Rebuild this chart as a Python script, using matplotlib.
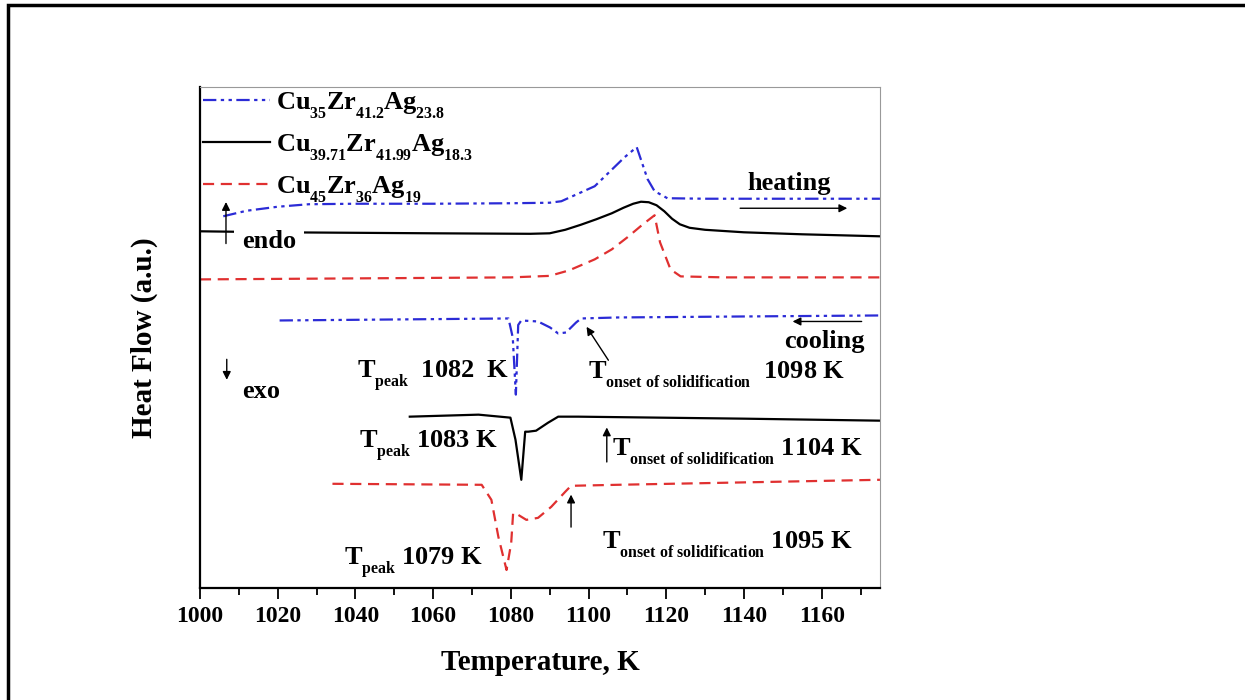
import matplotlib
matplotlib.use("Agg")
import matplotlib.pyplot as plt
from matplotlib.patches import Rectangle
from matplotlib.ticker import MultipleLocator

# smaller, lower subscripts like the original figure
try:
    import matplotlib._mathtext as mt
    mt.SHRINK_FACTOR = 0.6
    mt.FontConstantsBase.sub1 = 0.75
    mt.FontConstantsBase.subdrop = 0.75
except Exception:
    pass

plt.rcParams['font.family'] = ['Liberation Serif', 'DejaVu Serif']
plt.rcParams['font.weight'] = 'bold'
plt.rcParams['mathtext.fontset'] = 'custom'
plt.rcParams['mathtext.rm'] = 'Liberation Serif:bold'
plt.rcParams['mathtext.it'] = 'Liberation Serif:bold'
plt.rcParams['mathtext.bf'] = 'Liberation Serif:bold'

# heating curves (temperature K, heat flow a.u.)
heatT_blue = [1006, 1012, 1020, 1028, 1040, 1060, 1080, 1090, 1093, 1101.6, 1109.3,
              1112.4, 1115.2, 1117, 1120.3, 1130, 1150, 1175]
heatY_blue = [74.2, 75.3, 76.1, 76.6, 76.7, 76.7, 76.8, 76.9, 77.2, 80.2, 86.0,
              88.0, 81.6, 79.2, 77.8, 77.7, 77.7, 77.7]
heatT_black = [1000, 1020, 1060, 1085, 1090, 1094, 1098, 1102, 1106, 1109, 1111.5, 1113.5,
               1115.5, 1117.5, 1119.5, 1121.5, 1123.5, 1126, 1130, 1140, 1155, 1175]
heatY_black = [71.2, 71.0, 70.8, 70.7, 70.8, 71.5, 72.5, 73.6, 74.8, 75.9, 76.7, 77.1,
               77.0, 76.4, 75.2, 73.7, 72.6, 71.9, 71.5, 71.0, 70.6, 70.2]
heatT_red = [1000, 1040, 1080, 1090, 1095, 1101.6, 1106, 1110, 1114, 1117, 1118.4, 1121.1,
             1123.7, 1135, 1175]
heatY_red = [61.6, 61.8, 62.0, 62.3, 63.4, 65.6, 67.6, 70.0, 72.6, 74.4, 69.0, 63.6,
             62.2, 62.0, 62.0]

# cooling curves
coolT_blue = [1020.5, 1050, 1079.4, 1080.5, 1081.3, 1081.9, 1082.7, 1087, 1090.1,
              1092.2, 1094.2, 1096.8, 1098.1, 1107.5, 1140, 1175]
coolY_blue = [53.4, 53.6, 53.8, 50.0, 38.6, 52.5, 53.4, 53.2, 52.0,
              50.8, 51.0, 53.0, 53.8, 54.0, 54.2, 54.4]
coolT_black = [1054, 1071.7, 1079.9, 1081.2, 1082.7, 1083.7, 1084.5, 1086.5, 1089.6,
               1092.2, 1097.3, 1140, 1175]
coolY_black = [34.2, 34.6, 34.0, 29.6, 21.6, 31.2, 31.2, 31.4, 33.0,
               34.2, 34.2, 33.8, 33.4]
coolT_red = [1034.1, 1072.5, 1075, 1076.8, 1078.9, 1080.1, 1080.6, 1081.9, 1084, 1087,
             1090.4, 1094, 1095.5, 1107.5, 1175]
coolY_red = [20.8, 20.6, 17.6, 10.2, 3.6, 9.0, 15.0, 14.6, 13.6, 14.0,
             16.2, 19.2, 20.4, 20.6, 21.6]

labels = [r'$Cu_{35}Zr_{41.2}Ag_{23.8}$',
          r'$Cu_{39.71}Zr_{41.99}Ag_{18.3}$',
          r'$Cu_{45}Zr_{36}Ag_{19}$']

peak_texts = [r'$T_{peak}$  1082  K', r'$T_{peak}$ 1083 K', r'$T_{peak}$ 1079 K']
onset_texts = [r'$T_{onset\ of\ solidification}$  1098 K',
               r'$T_{onset\ of\ solidification}$ 1104 K',
               r'$T_{onset\ of\ solidification}$ 1095 K']

blue = '#2b2bd6'
red = '#e03030'
dashdotdot = (0, (6, 2, 1.5, 2, 1.5, 2))
dashed = (0, (5, 3))

fig = plt.figure(figsize=(12.45, 7), dpi=100)
ax = fig.add_axes([0.1606, 0.16, 0.5462, 0.7157])

# outer frame of the picture
fig.patches.append(Rectangle((8 / 1245, -0.1), 1.2, 1.1 - 5 / 700, transform=fig.transFigure,
                             fill=False, edgecolor='black', linewidth=2.5))

l1, = ax.plot(heatT_blue, heatY_blue, color=blue, lw=1.6, ls=dashdotdot)
l2, = ax.plot(heatT_black, heatY_black, color='black', lw=1.6)
l3, = ax.plot(heatT_red, heatY_red, color=red, lw=1.6, ls=dashed)
ax.plot(coolT_blue, coolY_blue, color=blue, lw=1.6, ls=dashdotdot)
ax.plot(coolT_black, coolY_black, color='black', lw=1.6)
ax.plot(coolT_red, coolY_red, color=red, lw=1.6, ls=dashed)

leg = ax.legend([l1, l2, l3], labels, loc='upper left', frameon=False, fontsize=19,
                handlelength=2.55, handletextpad=0.2, borderaxespad=0.0, borderpad=0.12,
                labelspacing=0.46)

ax.set_xlim(1000, 1175)
ax.set_ylim(0, 100)
ax.set_yticks([])
ax.xaxis.set_major_locator(MultipleLocator(20))
ax.xaxis.set_minor_locator(MultipleLocator(10))
ax.tick_params(axis='x', which='major', direction='out', length=8, width=1.3, labelsize=17, pad=5)
ax.tick_params(axis='x', which='minor', direction='out', length=5, width=1.3)
for lab in ax.get_xticklabels():
    lab.set_fontweight('bold')
ax.spines['left'].set_linewidth(1.6)
ax.spines['bottom'].set_linewidth(1.6)
ax.spines['top'].set_color('#999999')
ax.spines['right'].set_color('#999999')
ax.spines['top'].set_linewidth(0.8)
ax.spines['right'].set_linewidth(0.8)

ax.set_xlabel('Temperature, K', fontsize=21, fontweight='bold', labelpad=16)
ax.set_ylabel('Heat Flow (a.u.)', fontsize=21, fontweight='bold', labelpad=30)

arrow = dict(arrowstyle='-|>', color='black', lw=1.0, mutation_scale=12)
fs = 19
ax.text(1010.8, 69.2, 'endo', fontsize=fs, va='center', zorder=3,
        bbox=dict(facecolor='white', edgecolor='none', pad=5.5))
ax.annotate('', xy=(1006.7, 77.6), xytext=(1006.7, 68.2), arrowprops=arrow, zorder=4)
ax.text(1010.8, 39.2, 'exo', fontsize=fs, va='center')
ax.annotate('', xy=(1006.9, 41.0), xytext=(1006.9, 46.2), arrowprops=arrow)

ax.text(1151.6, 80.8, 'heating', fontsize=fs, ha='center', va='center')
ax.annotate('', xy=(1167.3, 75.8), xytext=(1138.3, 75.8), arrowprops=arrow)
ax.text(1160.8, 49.2, 'cooling', fontsize=fs, ha='center', va='center')
ax.annotate('', xy=(1151.8, 53.2), xytext=(1171, 53.2), arrowprops=arrow)

ax.text(1040.5, 42.0, peak_texts[0], fontsize=fs, va='baseline')
ax.text(1041.0, 28.0, peak_texts[1], fontsize=fs, va='baseline')
ax.text(1037.1, 4.6, peak_texts[2], fontsize=fs, va='baseline')

ax.text(1099.8, 42.0, onset_texts[0], fontsize=fs, va='baseline')
ax.text(1106.0, 26.6, onset_texts[1], fontsize=fs, va='baseline')
ax.text(1103.4, 8.0, onset_texts[2], fontsize=fs, va='baseline')

ax.annotate('', xy=(1099.1, 52.6), xytext=(1105.5, 45.0), arrowprops=arrow)
ax.annotate('', xy=(1104.7, 32.6), xytext=(1104.7, 24.6), arrowprops=arrow)
ax.annotate('', xy=(1095.5, 19.2), xytext=(1095.5, 11.6), arrowprops=arrow)

fig.savefig('out.png', dpi=100)
